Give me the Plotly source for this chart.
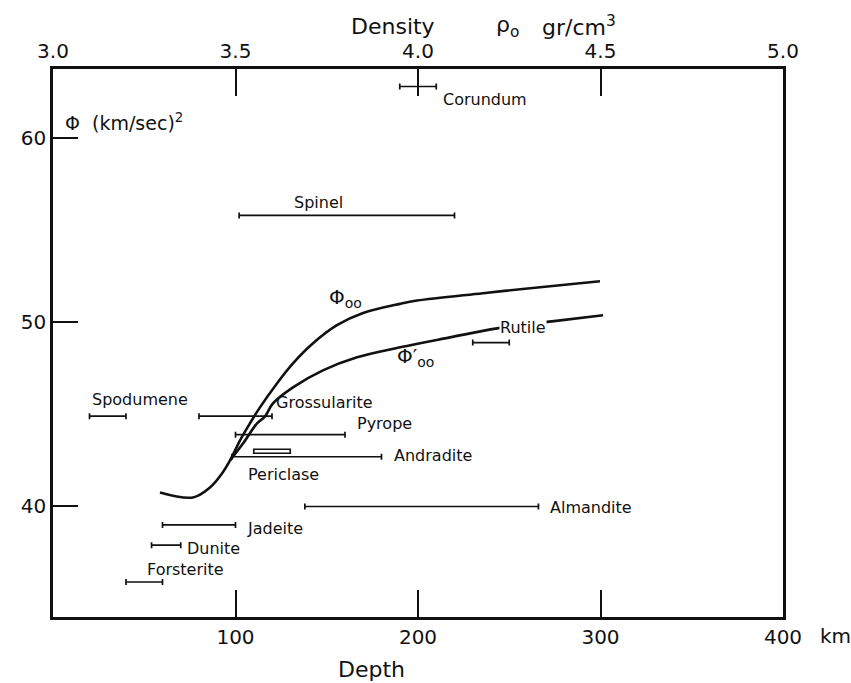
import plotly.graph_objects as go

# ---- data ----
minerals = ["Corundum", "Spinel", "Rutile", "Spodumene", "Grossularite", "Pyrope",
            "Andradite", "Almandite", "Jadeite", "Dunite", "Forsterite"]
phi_min = [62.8, 55.8, 48.9, 44.9, 44.9, 43.9, 42.7, 40.0, 39.0, 37.9, 35.9]
dens_lo = [3.95, 3.51, 4.15, 3.10, 3.40, 3.50, 3.49, 3.69, 3.30, 3.27, 3.20]
dens_hi = [4.05, 4.10, 4.25, 3.20, 3.60, 3.80, 3.90, 4.33, 3.50, 3.35, 3.30]

periclase_phi = 43.0
periclase_lo = 3.55
periclase_hi = 3.65

depth_oo = [58.6, 76.7, 86.0, 92.6, 97.0, 102.5, 107.9, 113.4, 122.7, 131.5, 142.5,
            155.6, 169.9, 190.1, 199.5, 235.6, 272.3, 299.7]
phi_oo = [40.76, 40.49, 41.03, 41.79, 42.5, 43.59, 44.51, 45.38, 46.68, 47.77, 48.86,
          49.84, 50.50, 51.00, 51.18, 51.58, 51.96, 52.23]

depth_oo_p = [97.0, 104.1, 111.8, 116.2, 120.5, 131.5, 147.9, 166.6, 190.1, 217.5,
              243.3, 273.4, 301.4]
phi_oo_p = [42.5, 43.42, 44.51, 44.89, 45.6, 46.47, 47.39, 48.1, 48.64, 49.18,
            49.67, 50.05, 50.38]

depth_ticks = [100, 200, 300, 400]
density_ticks = [3.0, 3.5, 4.0, 4.5, 5.0]
phi_ticks = [40, 50, 60]

# label anchor positions (depth km, phi)
label_pos = {
    "Corundum": (212.6, 62.1),
    "Spinel": (131.0, 56.5),
    "Rutile": (244.4, 49.73),
    "Spodumene": (20.3, 45.82),
    "Grossularite": (121.1, 45.65),
    "Pyrope": (165.5, 44.51),
    "Andradite": (185.8, 42.77),
    "Almandite": (271.2, 39.95),
    "Jadeite": (105.2, 38.8),
    "Dunite": (72.3, 37.72),
    "Forsterite": (50.4, 36.58),
}

FONT = "DejaVu Sans"
BLACK = "#111111"

fig = go.Figure()

# curves on depth axis
for xs, ys in ((depth_oo, phi_oo), (depth_oo_p, phi_oo_p)):
    fig.add_trace(go.Scatter(x=xs, y=ys, mode="lines",
                             line=dict(color=BLACK, width=2.6, shape="spline", smoothing=1.0),
                             hoverinfo="skip", showlegend=False))

# mineral density ranges on density axis
centers = [(a + b) / 2 for a, b in zip(dens_lo, dens_hi)]
halfw = [(b - a) / 2 for a, b in zip(dens_lo, dens_hi)]
fig.add_trace(go.Scatter(x=centers, y=phi_min, xaxis="x2", mode="markers",
                         marker=dict(size=1, color="rgba(0,0,0,0)"),
                         error_x=dict(type="data", array=halfw, symmetric=True,
                                      color=BLACK, thickness=1.7, width=3),
                         text=minerals, hoverinfo="text", showlegend=False))

# Periclase double bar
fig.add_shape(type="rect", xref="x2", yref="y",
              x0=periclase_lo, x1=periclase_hi,
              y0=periclase_phi - 0.11, y1=periclase_phi + 0.11,
              line=dict(color=BLACK, width=1.6), fillcolor="white")

W, H = 851, 683
L, R, T, B = 53, 68, 69, 66
pw, ph = W - L - R, H - T - B


def px2paper(px, py):
    return (px - L) / pw, (H - B - py) / ph


def note(text, x, y, size, xref="x", yref="y", xanchor="left", bg=None):
    d = dict(x=x, y=y, xref=xref, yref=yref, text=text, showarrow=False,
             xanchor=xanchor, yanchor="middle",
             font=dict(family=FONT, size=size, color=BLACK))
    if bg:
        d["bgcolor"] = bg
        d["borderpad"] = 0
    return d


annotations = []
for name in minerals:
    x, y = label_pos[name]
    annotations.append(note(name, x, y, 16, bg="white" if name == "Rutile" else None))
annotations.append(note("Periclase", 105.8, 41.74, 16))
annotations.append(note("Φ<sub>oo</sub>", 150.0, 51.3, 20))
annotations.append(note("Φ′<sub>oo</sub>", 187.5, 48.1, 20))
annotations.append(note("Φ  (km/sec)<sup>2</sup>", 5.5, 60.85, 19))

px_notes = [
    ("Depth", 371, 669, 22, "center"),
    ("km", 818, 636, 20, "left"),
    ("Density", 349, 26, 22, "left"),
    ("ρ<sub>o</sub>", 494, 26, 22, "left"),
    ("gr/cm<sup>3</sup>", 540, 26, 22, "left"),
]
for text, px, py, size, xa in px_notes:
    x, y = px2paper(px, py)
    annotations.append(note(text, x, y, size, xref="paper", yref="paper", xanchor=xa))

fig.update_layout(
    width=W, height=H,
    margin=dict(l=L, r=R, t=T, b=B),
    paper_bgcolor="white", plot_bgcolor="white",
    font=dict(family=FONT, color=BLACK),
    showlegend=False,
    annotations=annotations,
    xaxis=dict(range=[0, 400], tickvals=depth_ticks, ticktext=[str(v) for v in depth_ticks],
               ticks="inside", ticklen=27, tickwidth=2.2, tickcolor=BLACK,
               showline=True, linewidth=2.6, linecolor=BLACK, mirror=False,
               showgrid=False, zeroline=False,
               tickfont=dict(family=FONT, size=20, color=BLACK)),
    xaxis2=dict(range=[3.0, 5.0], overlaying="x", side="top",
                tickvals=density_ticks, ticktext=[f"{v:.1f}" for v in density_ticks],
                ticks="inside", ticklen=27, tickwidth=2.2, tickcolor=BLACK,
                showline=True, linewidth=2.6, linecolor=BLACK,
                showgrid=False, zeroline=False,
                tickfont=dict(family=FONT, size=20, color=BLACK)),
    yaxis=dict(range=[34.0, 63.75], tickvals=phi_ticks,
               ticks="inside", ticklen=25, tickwidth=2.2, tickcolor=BLACK,
               showline=True, linewidth=2.6, linecolor=BLACK, mirror=True,
               showgrid=False, zeroline=False,
               tickfont=dict(family=FONT, size=20, color=BLACK)),
)

fig.write_html("out.html")
